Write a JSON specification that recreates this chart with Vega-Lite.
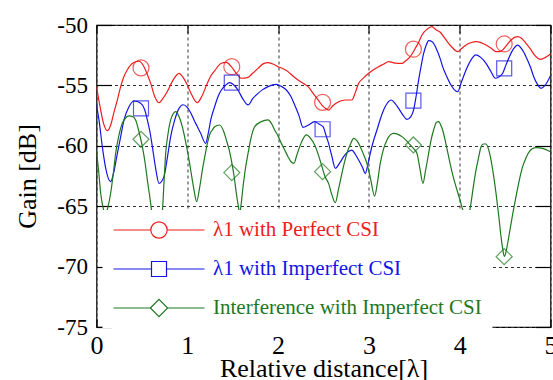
{
  "$schema": "https://vega.github.io/schema/vega-lite/v6.json",
  "width": 454,
  "height": 302,
  "autosize": "none",
  "padding": {"left": 96.5, "top": 25, "right": 2.5, "bottom": 53},
  "background": "white",
  "config": {
    "view": {"stroke": "#000", "strokeWidth": 1.2},
    "font": "Liberation Serif, Times New Roman, serif",
    "axis": {
      "labelFont": "Liberation Serif, Times New Roman, serif",
      "titleFont": "Liberation Serif, Times New Roman, serif",
      "labelColor": "#000",
      "titleColor": "#000",
      "titleFontWeight": "normal",
      "domain": false,
      "tickColor": "#000",
      "tickWidth": 1.2,
      "gridColor": "#333",
      "gridDash": [3, 3],
      "gridWidth": 1,
      "gridOpacity": 1
    }
  },
  "datasets": {
    "curves": [
      {"x": 0, "y": -55.1, "s": "λ1 with Perfect CSI"},
      {"x": 0.04, "y": -56.8, "s": "λ1 with Perfect CSI"},
      {"x": 0.08, "y": -58.2, "s": "λ1 with Perfect CSI"},
      {"x": 0.12, "y": -58.75, "s": "λ1 with Perfect CSI"},
      {"x": 0.16, "y": -58.2, "s": "λ1 with Perfect CSI"},
      {"x": 0.19, "y": -57.3, "s": "λ1 with Perfect CSI"},
      {"x": 0.23, "y": -56.2, "s": "λ1 with Perfect CSI"},
      {"x": 0.266, "y": -55.1, "s": "λ1 with Perfect CSI"},
      {"x": 0.3, "y": -54.3, "s": "λ1 with Perfect CSI"},
      {"x": 0.34, "y": -53.7, "s": "λ1 with Perfect CSI"},
      {"x": 0.41, "y": -53.1, "s": "λ1 with Perfect CSI"},
      {"x": 0.468, "y": -53.0, "s": "λ1 with Perfect CSI"},
      {"x": 0.523, "y": -53.45, "s": "λ1 with Perfect CSI"},
      {"x": 0.56, "y": -54.1, "s": "λ1 with Perfect CSI"},
      {"x": 0.597, "y": -54.83, "s": "λ1 with Perfect CSI"},
      {"x": 0.64, "y": -55.9, "s": "λ1 with Perfect CSI"},
      {"x": 0.688, "y": -56.43, "s": "λ1 with Perfect CSI"},
      {"x": 0.73, "y": -56.1, "s": "λ1 with Perfect CSI"},
      {"x": 0.78, "y": -55.5, "s": "λ1 with Perfect CSI"},
      {"x": 0.84, "y": -54.6, "s": "λ1 with Perfect CSI"},
      {"x": 0.909, "y": -54.0, "s": "λ1 with Perfect CSI"},
      {"x": 0.95, "y": -54.3, "s": "λ1 with Perfect CSI"},
      {"x": 1.0, "y": -54.97, "s": "λ1 with Perfect CSI"},
      {"x": 1.05, "y": -55.8, "s": "λ1 with Perfect CSI"},
      {"x": 1.11, "y": -56.43, "s": "λ1 with Perfect CSI"},
      {"x": 1.16, "y": -55.9, "s": "λ1 with Perfect CSI"},
      {"x": 1.22, "y": -54.83, "s": "λ1 with Perfect CSI"},
      {"x": 1.26, "y": -54.2, "s": "λ1 with Perfect CSI"},
      {"x": 1.3, "y": -53.8, "s": "λ1 with Perfect CSI"},
      {"x": 1.375, "y": -53.17, "s": "λ1 with Perfect CSI"},
      {"x": 1.43, "y": -53.1, "s": "λ1 with Perfect CSI"},
      {"x": 1.485, "y": -53.45, "s": "λ1 with Perfect CSI"},
      {"x": 1.54, "y": -54.0, "s": "λ1 with Perfect CSI"},
      {"x": 1.595, "y": -54.41, "s": "λ1 with Perfect CSI"},
      {"x": 1.669, "y": -54.33, "s": "λ1 with Perfect CSI"},
      {"x": 1.72, "y": -54.0, "s": "λ1 with Perfect CSI"},
      {"x": 1.779, "y": -53.59, "s": "λ1 with Perfect CSI"},
      {"x": 1.84, "y": -53.2, "s": "λ1 with Perfect CSI"},
      {"x": 1.889, "y": -53.12, "s": "λ1 with Perfect CSI"},
      {"x": 1.95, "y": -53.25, "s": "λ1 with Perfect CSI"},
      {"x": 1.999, "y": -53.45, "s": "λ1 with Perfect CSI"},
      {"x": 2.05, "y": -53.6, "s": "λ1 with Perfect CSI"},
      {"x": 2.109, "y": -53.86, "s": "λ1 with Perfect CSI"},
      {"x": 2.16, "y": -54.2, "s": "λ1 with Perfect CSI"},
      {"x": 2.219, "y": -54.55, "s": "λ1 with Perfect CSI"},
      {"x": 2.28, "y": -54.85, "s": "λ1 with Perfect CSI"},
      {"x": 2.33, "y": -55.1, "s": "λ1 with Perfect CSI"},
      {"x": 2.39, "y": -55.7, "s": "λ1 with Perfect CSI"},
      {"x": 2.44, "y": -56.2, "s": "λ1 with Perfect CSI"},
      {"x": 2.49, "y": -56.7, "s": "λ1 with Perfect CSI"},
      {"x": 2.53, "y": -56.95, "s": "λ1 with Perfect CSI"},
      {"x": 2.556, "y": -57.04, "s": "λ1 with Perfect CSI"},
      {"x": 2.6, "y": -56.7, "s": "λ1 with Perfect CSI"},
      {"x": 2.667, "y": -56.35, "s": "λ1 with Perfect CSI"},
      {"x": 2.74, "y": -56.21, "s": "λ1 with Perfect CSI"},
      {"x": 2.813, "y": -56.21, "s": "λ1 with Perfect CSI"},
      {"x": 2.85, "y": -55.6, "s": "λ1 with Perfect CSI"},
      {"x": 2.887, "y": -54.83, "s": "λ1 with Perfect CSI"},
      {"x": 2.94, "y": -54.4, "s": "λ1 with Perfect CSI"},
      {"x": 2.997, "y": -54.0, "s": "λ1 with Perfect CSI"},
      {"x": 3.05, "y": -53.7, "s": "λ1 with Perfect CSI"},
      {"x": 3.107, "y": -53.45, "s": "λ1 with Perfect CSI"},
      {"x": 3.16, "y": -53.25, "s": "λ1 with Perfect CSI"},
      {"x": 3.217, "y": -53.04, "s": "λ1 with Perfect CSI"},
      {"x": 3.29, "y": -53.15, "s": "λ1 with Perfect CSI"},
      {"x": 3.364, "y": -53.17, "s": "λ1 with Perfect CSI"},
      {"x": 3.4, "y": -53.0, "s": "λ1 with Perfect CSI"},
      {"x": 3.437, "y": -52.76, "s": "λ1 with Perfect CSI"},
      {"x": 3.475, "y": -52.4, "s": "λ1 with Perfect CSI"},
      {"x": 3.511, "y": -51.93, "s": "λ1 with Perfect CSI"},
      {"x": 3.55, "y": -51.4, "s": "λ1 with Perfect CSI"},
      {"x": 3.584, "y": -50.83, "s": "λ1 with Perfect CSI"},
      {"x": 3.64, "y": -50.35, "s": "λ1 with Perfect CSI"},
      {"x": 3.694, "y": -50.14, "s": "λ1 with Perfect CSI"},
      {"x": 3.739, "y": -50.4, "s": "λ1 with Perfect CSI"},
      {"x": 3.786, "y": -50.6, "s": "λ1 with Perfect CSI"},
      {"x": 3.849, "y": -51.24, "s": "λ1 with Perfect CSI"},
      {"x": 3.91, "y": -51.8, "s": "λ1 with Perfect CSI"},
      {"x": 3.978, "y": -52.2, "s": "λ1 with Perfect CSI"},
      {"x": 4.02, "y": -51.95, "s": "λ1 with Perfect CSI"},
      {"x": 4.07, "y": -51.66, "s": "λ1 with Perfect CSI"},
      {"x": 4.13, "y": -51.45, "s": "λ1 with Perfect CSI"},
      {"x": 4.18, "y": -51.38, "s": "λ1 with Perfect CSI"},
      {"x": 4.24, "y": -51.48, "s": "λ1 with Perfect CSI"},
      {"x": 4.29, "y": -51.66, "s": "λ1 with Perfect CSI"},
      {"x": 4.35, "y": -51.95, "s": "λ1 with Perfect CSI"},
      {"x": 4.4, "y": -52.2, "s": "λ1 with Perfect CSI"},
      {"x": 4.44, "y": -52.2, "s": "λ1 with Perfect CSI"},
      {"x": 4.473, "y": -52.07, "s": "λ1 with Perfect CSI"},
      {"x": 4.52, "y": -51.65, "s": "λ1 with Perfect CSI"},
      {"x": 4.565, "y": -51.24, "s": "λ1 with Perfect CSI"},
      {"x": 4.638, "y": -50.97, "s": "λ1 with Perfect CSI"},
      {"x": 4.68, "y": -51.1, "s": "λ1 with Perfect CSI"},
      {"x": 4.73, "y": -51.52, "s": "λ1 with Perfect CSI"},
      {"x": 4.78, "y": -52.0, "s": "λ1 with Perfect CSI"},
      {"x": 4.822, "y": -52.48, "s": "λ1 with Perfect CSI"},
      {"x": 4.86, "y": -52.75, "s": "λ1 with Perfect CSI"},
      {"x": 4.895, "y": -52.84, "s": "λ1 with Perfect CSI"},
      {"x": 4.94, "y": -52.7, "s": "λ1 with Perfect CSI"},
      {"x": 5.0, "y": -52.4, "s": "λ1 with Perfect CSI"},

      {"x": 0, "y": -56.6, "s": "λ1 with Imperfect CSI"},
      {"x": 0.03, "y": -58.0, "s": "λ1 with Imperfect CSI"},
      {"x": 0.064, "y": -60.07, "s": "λ1 with Imperfect CSI"},
      {"x": 0.1, "y": -61.8, "s": "λ1 with Imperfect CSI"},
      {"x": 0.156, "y": -62.97, "s": "λ1 with Imperfect CSI"},
      {"x": 0.19, "y": -62.2, "s": "λ1 with Imperfect CSI"},
      {"x": 0.23, "y": -60.62, "s": "λ1 with Imperfect CSI"},
      {"x": 0.27, "y": -59.1, "s": "λ1 with Imperfect CSI"},
      {"x": 0.303, "y": -57.86, "s": "λ1 with Imperfect CSI"},
      {"x": 0.358, "y": -56.76, "s": "λ1 with Imperfect CSI"},
      {"x": 0.413, "y": -56.29, "s": "λ1 with Imperfect CSI"},
      {"x": 0.487, "y": -56.48, "s": "λ1 with Imperfect CSI"},
      {"x": 0.53, "y": -57.0, "s": "λ1 with Imperfect CSI"},
      {"x": 0.56, "y": -57.86, "s": "λ1 with Imperfect CSI"},
      {"x": 0.59, "y": -58.9, "s": "λ1 with Imperfect CSI"},
      {"x": 0.615, "y": -60.07, "s": "λ1 with Imperfect CSI"},
      {"x": 0.65, "y": -61.8, "s": "λ1 with Imperfect CSI"},
      {"x": 0.688, "y": -63.11, "s": "λ1 with Imperfect CSI"},
      {"x": 0.743, "y": -62.55, "s": "λ1 with Imperfect CSI"},
      {"x": 0.78, "y": -61.0, "s": "λ1 with Imperfect CSI"},
      {"x": 0.817, "y": -59.24, "s": "λ1 with Imperfect CSI"},
      {"x": 0.86, "y": -57.9, "s": "λ1 with Imperfect CSI"},
      {"x": 0.909, "y": -56.9, "s": "λ1 with Imperfect CSI"},
      {"x": 0.955, "y": -56.6, "s": "λ1 with Imperfect CSI"},
      {"x": 1.0, "y": -56.82, "s": "λ1 with Imperfect CSI"},
      {"x": 1.04, "y": -57.3, "s": "λ1 with Imperfect CSI"},
      {"x": 1.074, "y": -57.86, "s": "λ1 with Imperfect CSI"},
      {"x": 1.11, "y": -58.4, "s": "λ1 with Imperfect CSI"},
      {"x": 1.147, "y": -58.97, "s": "λ1 with Imperfect CSI"},
      {"x": 1.202, "y": -59.8, "s": "λ1 with Imperfect CSI"},
      {"x": 1.23, "y": -59.0, "s": "λ1 with Imperfect CSI"},
      {"x": 1.26, "y": -57.8, "s": "λ1 with Imperfect CSI"},
      {"x": 1.301, "y": -56.76, "s": "λ1 with Imperfect CSI"},
      {"x": 1.34, "y": -55.9, "s": "λ1 with Imperfect CSI"},
      {"x": 1.375, "y": -55.38, "s": "λ1 with Imperfect CSI"},
      {"x": 1.42, "y": -55.0, "s": "λ1 with Imperfect CSI"},
      {"x": 1.467, "y": -54.77, "s": "λ1 with Imperfect CSI"},
      {"x": 1.51, "y": -54.95, "s": "λ1 with Imperfect CSI"},
      {"x": 1.558, "y": -55.38, "s": "λ1 with Imperfect CSI"},
      {"x": 1.61, "y": -56.1, "s": "λ1 with Imperfect CSI"},
      {"x": 1.669, "y": -56.62, "s": "λ1 with Imperfect CSI"},
      {"x": 1.72, "y": -56.1, "s": "λ1 with Imperfect CSI"},
      {"x": 1.779, "y": -55.66, "s": "λ1 with Imperfect CSI"},
      {"x": 1.83, "y": -55.35, "s": "λ1 with Imperfect CSI"},
      {"x": 1.889, "y": -55.1, "s": "λ1 with Imperfect CSI"},
      {"x": 1.98, "y": -54.91, "s": "λ1 with Imperfect CSI"},
      {"x": 2.04, "y": -55.1, "s": "λ1 with Imperfect CSI"},
      {"x": 2.091, "y": -55.38, "s": "λ1 with Imperfect CSI"},
      {"x": 2.14, "y": -55.9, "s": "λ1 with Imperfect CSI"},
      {"x": 2.183, "y": -56.62, "s": "λ1 with Imperfect CSI"},
      {"x": 2.23, "y": -57.5, "s": "λ1 with Imperfect CSI"},
      {"x": 2.274, "y": -58.47, "s": "λ1 with Imperfect CSI"},
      {"x": 2.33, "y": -58.3, "s": "λ1 with Imperfect CSI"},
      {"x": 2.403, "y": -58.0, "s": "λ1 with Imperfect CSI"},
      {"x": 2.45, "y": -58.2, "s": "λ1 with Imperfect CSI"},
      {"x": 2.495, "y": -58.42, "s": "λ1 with Imperfect CSI"},
      {"x": 2.53, "y": -59.2, "s": "λ1 with Imperfect CSI"},
      {"x": 2.556, "y": -59.8, "s": "λ1 with Imperfect CSI"},
      {"x": 2.59, "y": -60.8, "s": "λ1 with Imperfect CSI"},
      {"x": 2.63, "y": -61.86, "s": "λ1 with Imperfect CSI"},
      {"x": 2.68, "y": -61.4, "s": "λ1 with Imperfect CSI"},
      {"x": 2.722, "y": -60.9, "s": "λ1 with Imperfect CSI"},
      {"x": 2.77, "y": -60.5, "s": "λ1 with Imperfect CSI"},
      {"x": 2.813, "y": -60.35, "s": "λ1 with Imperfect CSI"},
      {"x": 2.85, "y": -60.7, "s": "λ1 with Imperfect CSI"},
      {"x": 2.887, "y": -61.18, "s": "λ1 with Imperfect CSI"},
      {"x": 2.93, "y": -61.8, "s": "λ1 with Imperfect CSI"},
      {"x": 2.96, "y": -62.28, "s": "λ1 with Imperfect CSI"},
      {"x": 2.99, "y": -61.5, "s": "λ1 with Imperfect CSI"},
      {"x": 3.015, "y": -60.62, "s": "λ1 with Imperfect CSI"},
      {"x": 3.05, "y": -59.6, "s": "λ1 with Imperfect CSI"},
      {"x": 3.089, "y": -58.69, "s": "λ1 with Imperfect CSI"},
      {"x": 3.125, "y": -57.8, "s": "λ1 with Imperfect CSI"},
      {"x": 3.162, "y": -57.04, "s": "λ1 with Imperfect CSI"},
      {"x": 3.2, "y": -56.5, "s": "λ1 with Imperfect CSI"},
      {"x": 3.246, "y": -56.21, "s": "λ1 with Imperfect CSI"},
      {"x": 3.29, "y": -56.5, "s": "λ1 with Imperfect CSI"},
      {"x": 3.327, "y": -56.9, "s": "λ1 with Imperfect CSI"},
      {"x": 3.37, "y": -57.4, "s": "λ1 with Imperfect CSI"},
      {"x": 3.419, "y": -57.81, "s": "λ1 with Imperfect CSI"},
      {"x": 3.46, "y": -57.6, "s": "λ1 with Imperfect CSI"},
      {"x": 3.492, "y": -57.04, "s": "λ1 with Imperfect CSI"},
      {"x": 3.52, "y": -55.9, "s": "λ1 with Imperfect CSI"},
      {"x": 3.548, "y": -54.55, "s": "λ1 with Imperfect CSI"},
      {"x": 3.575, "y": -53.4, "s": "λ1 with Imperfect CSI"},
      {"x": 3.603, "y": -52.35, "s": "λ1 with Imperfect CSI"},
      {"x": 3.63, "y": -51.7, "s": "λ1 with Imperfect CSI"},
      {"x": 3.658, "y": -51.3, "s": "λ1 with Imperfect CSI"},
      {"x": 3.7, "y": -51.4, "s": "λ1 with Imperfect CSI"},
      {"x": 3.739, "y": -51.9, "s": "λ1 with Imperfect CSI"},
      {"x": 3.786, "y": -52.8, "s": "λ1 with Imperfect CSI"},
      {"x": 3.812, "y": -53.45, "s": "λ1 with Imperfect CSI"},
      {"x": 3.86, "y": -54.3, "s": "λ1 with Imperfect CSI"},
      {"x": 3.904, "y": -54.97, "s": "λ1 with Imperfect CSI"},
      {"x": 3.94, "y": -55.35, "s": "λ1 with Imperfect CSI"},
      {"x": 3.978, "y": -55.52, "s": "λ1 with Imperfect CSI"},
      {"x": 4.02, "y": -54.7, "s": "λ1 with Imperfect CSI"},
      {"x": 4.07, "y": -53.72, "s": "λ1 with Imperfect CSI"},
      {"x": 4.12, "y": -52.95, "s": "λ1 with Imperfect CSI"},
      {"x": 4.18, "y": -52.48, "s": "λ1 with Imperfect CSI"},
      {"x": 4.235, "y": -52.7, "s": "λ1 with Imperfect CSI"},
      {"x": 4.29, "y": -53.17, "s": "λ1 with Imperfect CSI"},
      {"x": 4.34, "y": -53.8, "s": "λ1 with Imperfect CSI"},
      {"x": 4.392, "y": -54.41, "s": "λ1 with Imperfect CSI"},
      {"x": 4.43, "y": -54.3, "s": "λ1 with Imperfect CSI"},
      {"x": 4.473, "y": -54.0, "s": "λ1 with Imperfect CSI"},
      {"x": 4.51, "y": -53.3, "s": "λ1 with Imperfect CSI"},
      {"x": 4.547, "y": -52.62, "s": "λ1 with Imperfect CSI"},
      {"x": 4.59, "y": -52.0, "s": "λ1 with Imperfect CSI"},
      {"x": 4.638, "y": -51.66, "s": "λ1 with Imperfect CSI"},
      {"x": 4.685, "y": -52.0, "s": "λ1 with Imperfect CSI"},
      {"x": 4.73, "y": -52.62, "s": "λ1 with Imperfect CSI"},
      {"x": 4.78, "y": -53.5, "s": "λ1 with Imperfect CSI"},
      {"x": 4.822, "y": -54.41, "s": "λ1 with Imperfect CSI"},
      {"x": 4.86, "y": -54.95, "s": "λ1 with Imperfect CSI"},
      {"x": 4.895, "y": -55.24, "s": "λ1 with Imperfect CSI"},
      {"x": 4.94, "y": -55.0, "s": "λ1 with Imperfect CSI"},
      {"x": 5.0, "y": -54.2, "s": "λ1 with Imperfect CSI"},

      {"x": 0, "y": -60.4, "s": "Interference with Imperfect CSI"},
      {"x": 0.025, "y": -62.2, "s": "Interference with Imperfect CSI"},
      {"x": 0.046, "y": -63.93, "s": "Interference with Imperfect CSI"},
      {"x": 0.075, "y": -65.2, "s": "Interference with Imperfect CSI"},
      {"x": 0.1, "y": -65.65, "s": "Interference with Imperfect CSI"},
      {"x": 0.125, "y": -65.1, "s": "Interference with Imperfect CSI"},
      {"x": 0.156, "y": -63.93, "s": "Interference with Imperfect CSI"},
      {"x": 0.185, "y": -62.3, "s": "Interference with Imperfect CSI"},
      {"x": 0.211, "y": -60.62, "s": "Interference with Imperfect CSI"},
      {"x": 0.245, "y": -59.2, "s": "Interference with Imperfect CSI"},
      {"x": 0.284, "y": -58.14, "s": "Interference with Imperfect CSI"},
      {"x": 0.32, "y": -57.7, "s": "Interference with Imperfect CSI"},
      {"x": 0.358, "y": -57.53, "s": "Interference with Imperfect CSI"},
      {"x": 0.4, "y": -57.6, "s": "Interference with Imperfect CSI"},
      {"x": 0.431, "y": -57.86, "s": "Interference with Imperfect CSI"},
      {"x": 0.47, "y": -58.9, "s": "Interference with Imperfect CSI"},
      {"x": 0.505, "y": -60.07, "s": "Interference with Imperfect CSI"},
      {"x": 0.535, "y": -61.4, "s": "Interference with Imperfect CSI"},
      {"x": 0.56, "y": -62.83, "s": "Interference with Imperfect CSI"},
      {"x": 0.59, "y": -64.4, "s": "Interference with Imperfect CSI"},
      {"x": 0.615, "y": -65.87, "s": "Interference with Imperfect CSI"},
      {"x": 0.64, "y": -67.3, "s": "Interference with Imperfect CSI"},
      {"x": 0.675, "y": -68.0, "s": "Interference with Imperfect CSI"},
      {"x": 0.71, "y": -67.0, "s": "Interference with Imperfect CSI"},
      {"x": 0.725, "y": -65.6, "s": "Interference with Imperfect CSI"},
      {"x": 0.745, "y": -62.8, "s": "Interference with Imperfect CSI"},
      {"x": 0.762, "y": -60.62, "s": "Interference with Imperfect CSI"},
      {"x": 0.79, "y": -58.9, "s": "Interference with Imperfect CSI"},
      {"x": 0.817, "y": -57.86, "s": "Interference with Imperfect CSI"},
      {"x": 0.872, "y": -57.17, "s": "Interference with Imperfect CSI"},
      {"x": 0.91, "y": -57.6, "s": "Interference with Imperfect CSI"},
      {"x": 0.945, "y": -58.42, "s": "Interference with Imperfect CSI"},
      {"x": 0.985, "y": -59.8, "s": "Interference with Imperfect CSI"},
      {"x": 1.019, "y": -61.17, "s": "Interference with Imperfect CSI"},
      {"x": 1.05, "y": -62.6, "s": "Interference with Imperfect CSI"},
      {"x": 1.074, "y": -63.66, "s": "Interference with Imperfect CSI"},
      {"x": 1.103, "y": -64.62, "s": "Interference with Imperfect CSI"},
      {"x": 1.135, "y": -63.5, "s": "Interference with Imperfect CSI"},
      {"x": 1.166, "y": -62.0, "s": "Interference with Imperfect CSI"},
      {"x": 1.195, "y": -60.8, "s": "Interference with Imperfect CSI"},
      {"x": 1.221, "y": -59.8, "s": "Interference with Imperfect CSI"},
      {"x": 1.25, "y": -59.0, "s": "Interference with Imperfect CSI"},
      {"x": 1.276, "y": -58.69, "s": "Interference with Imperfect CSI"},
      {"x": 1.301, "y": -58.42, "s": "Interference with Imperfect CSI"},
      {"x": 1.356, "y": -58.28, "s": "Interference with Imperfect CSI"},
      {"x": 1.4, "y": -58.8, "s": "Interference with Imperfect CSI"},
      {"x": 1.43, "y": -59.52, "s": "Interference with Imperfect CSI"},
      {"x": 1.46, "y": -60.3, "s": "Interference with Imperfect CSI"},
      {"x": 1.485, "y": -61.18, "s": "Interference with Imperfect CSI"},
      {"x": 1.515, "y": -62.5, "s": "Interference with Imperfect CSI"},
      {"x": 1.54, "y": -63.93, "s": "Interference with Imperfect CSI"},
      {"x": 1.56, "y": -64.9, "s": "Interference with Imperfect CSI"},
      {"x": 1.577, "y": -65.59, "s": "Interference with Imperfect CSI"},
      {"x": 1.595, "y": -64.7, "s": "Interference with Imperfect CSI"},
      {"x": 1.614, "y": -63.38, "s": "Interference with Imperfect CSI"},
      {"x": 1.64, "y": -61.9, "s": "Interference with Imperfect CSI"},
      {"x": 1.669, "y": -60.62, "s": "Interference with Imperfect CSI"},
      {"x": 1.7, "y": -59.4, "s": "Interference with Imperfect CSI"},
      {"x": 1.742, "y": -58.42, "s": "Interference with Imperfect CSI"},
      {"x": 1.815, "y": -58.0, "s": "Interference with Imperfect CSI"},
      {"x": 1.889, "y": -57.86, "s": "Interference with Imperfect CSI"},
      {"x": 1.93, "y": -58.2, "s": "Interference with Imperfect CSI"},
      {"x": 1.962, "y": -58.69, "s": "Interference with Imperfect CSI"},
      {"x": 2.0, "y": -59.2, "s": "Interference with Imperfect CSI"},
      {"x": 2.036, "y": -59.8, "s": "Interference with Imperfect CSI"},
      {"x": 2.07, "y": -60.3, "s": "Interference with Imperfect CSI"},
      {"x": 2.109, "y": -60.9, "s": "Interference with Imperfect CSI"},
      {"x": 2.14, "y": -61.3, "s": "Interference with Imperfect CSI"},
      {"x": 2.175, "y": -61.45, "s": "Interference with Imperfect CSI"},
      {"x": 2.205, "y": -60.8, "s": "Interference with Imperfect CSI"},
      {"x": 2.238, "y": -60.07, "s": "Interference with Imperfect CSI"},
      {"x": 2.27, "y": -59.5, "s": "Interference with Imperfect CSI"},
      {"x": 2.311, "y": -59.1, "s": "Interference with Imperfect CSI"},
      {"x": 2.36, "y": -59.4, "s": "Interference with Imperfect CSI"},
      {"x": 2.403, "y": -59.93, "s": "Interference with Imperfect CSI"},
      {"x": 2.45, "y": -60.9, "s": "Interference with Imperfect CSI"},
      {"x": 2.483, "y": -61.73, "s": "Interference with Imperfect CSI"},
      {"x": 2.52, "y": -62.6, "s": "Interference with Imperfect CSI"},
      {"x": 2.556, "y": -63.11, "s": "Interference with Imperfect CSI"},
      {"x": 2.59, "y": -64.0, "s": "Interference with Imperfect CSI"},
      {"x": 2.63, "y": -64.71, "s": "Interference with Imperfect CSI"},
      {"x": 2.665, "y": -63.6, "s": "Interference with Imperfect CSI"},
      {"x": 2.703, "y": -62.28, "s": "Interference with Imperfect CSI"},
      {"x": 2.73, "y": -61.4, "s": "Interference with Imperfect CSI"},
      {"x": 2.758, "y": -60.62, "s": "Interference with Imperfect CSI"},
      {"x": 2.795, "y": -59.9, "s": "Interference with Imperfect CSI"},
      {"x": 2.832, "y": -59.38, "s": "Interference with Imperfect CSI"},
      {"x": 2.87, "y": -59.6, "s": "Interference with Imperfect CSI"},
      {"x": 2.905, "y": -60.07, "s": "Interference with Imperfect CSI"},
      {"x": 2.94, "y": -60.7, "s": "Interference with Imperfect CSI"},
      {"x": 2.978, "y": -61.45, "s": "Interference with Imperfect CSI"},
      {"x": 3.02, "y": -62.8, "s": "Interference with Imperfect CSI"},
      {"x": 3.063, "y": -64.16, "s": "Interference with Imperfect CSI"},
      {"x": 3.095, "y": -63.0, "s": "Interference with Imperfect CSI"},
      {"x": 3.125, "y": -61.45, "s": "Interference with Imperfect CSI"},
      {"x": 3.16, "y": -60.3, "s": "Interference with Imperfect CSI"},
      {"x": 3.199, "y": -59.52, "s": "Interference with Imperfect CSI"},
      {"x": 3.235, "y": -59.1, "s": "Interference with Imperfect CSI"},
      {"x": 3.272, "y": -58.97, "s": "Interference with Imperfect CSI"},
      {"x": 3.32, "y": -59.05, "s": "Interference with Imperfect CSI"},
      {"x": 3.364, "y": -59.24, "s": "Interference with Imperfect CSI"},
      {"x": 3.41, "y": -59.55, "s": "Interference with Imperfect CSI"},
      {"x": 3.456, "y": -59.93, "s": "Interference with Imperfect CSI"},
      {"x": 3.5, "y": -60.3, "s": "Interference with Imperfect CSI"},
      {"x": 3.529, "y": -60.62, "s": "Interference with Imperfect CSI"},
      {"x": 3.56, "y": -61.8, "s": "Interference with Imperfect CSI"},
      {"x": 3.595, "y": -63.11, "s": "Interference with Imperfect CSI"},
      {"x": 3.625, "y": -62.0, "s": "Interference with Imperfect CSI"},
      {"x": 3.658, "y": -60.62, "s": "Interference with Imperfect CSI"},
      {"x": 3.685, "y": -59.5, "s": "Interference with Imperfect CSI"},
      {"x": 3.713, "y": -58.69, "s": "Interference with Imperfect CSI"},
      {"x": 3.745, "y": -58.05, "s": "Interference with Imperfect CSI"},
      {"x": 3.768, "y": -58.0, "s": "Interference with Imperfect CSI"},
      {"x": 3.8, "y": -58.45, "s": "Interference with Imperfect CSI"},
      {"x": 3.812, "y": -58.69, "s": "Interference with Imperfect CSI"},
      {"x": 3.85, "y": -59.9, "s": "Interference with Imperfect CSI"},
      {"x": 3.886, "y": -61.18, "s": "Interference with Imperfect CSI"},
      {"x": 3.92, "y": -62.3, "s": "Interference with Imperfect CSI"},
      {"x": 3.959, "y": -63.38, "s": "Interference with Imperfect CSI"},
      {"x": 4.0, "y": -64.4, "s": "Interference with Imperfect CSI"},
      {"x": 4.033, "y": -65.31, "s": "Interference with Imperfect CSI"},
      {"x": 4.077, "y": -66.42, "s": "Interference with Imperfect CSI"},
      {"x": 4.1, "y": -65.8, "s": "Interference with Imperfect CSI"},
      {"x": 4.124, "y": -64.76, "s": "Interference with Imperfect CSI"},
      {"x": 4.15, "y": -63.4, "s": "Interference with Imperfect CSI"},
      {"x": 4.18, "y": -62.0, "s": "Interference with Imperfect CSI"},
      {"x": 4.21, "y": -60.9, "s": "Interference with Imperfect CSI"},
      {"x": 4.235, "y": -60.07, "s": "Interference with Imperfect CSI"},
      {"x": 4.26, "y": -59.85, "s": "Interference with Imperfect CSI"},
      {"x": 4.29, "y": -59.85, "s": "Interference with Imperfect CSI"},
      {"x": 4.318, "y": -60.3, "s": "Interference with Imperfect CSI"},
      {"x": 4.345, "y": -61.18, "s": "Interference with Imperfect CSI"},
      {"x": 4.372, "y": -62.4, "s": "Interference with Imperfect CSI"},
      {"x": 4.4, "y": -63.93, "s": "Interference with Imperfect CSI"},
      {"x": 4.43, "y": -65.8, "s": "Interference with Imperfect CSI"},
      {"x": 4.455, "y": -67.52, "s": "Interference with Imperfect CSI"},
      {"x": 4.475, "y": -68.6, "s": "Interference with Imperfect CSI"},
      {"x": 4.492, "y": -69.18, "s": "Interference with Imperfect CSI"},
      {"x": 4.52, "y": -68.4, "s": "Interference with Imperfect CSI"},
      {"x": 4.547, "y": -67.25, "s": "Interference with Imperfect CSI"},
      {"x": 4.585, "y": -65.6, "s": "Interference with Imperfect CSI"},
      {"x": 4.62, "y": -64.21, "s": "Interference with Imperfect CSI"},
      {"x": 4.655, "y": -62.9, "s": "Interference with Imperfect CSI"},
      {"x": 4.693, "y": -61.73, "s": "Interference with Imperfect CSI"},
      {"x": 4.73, "y": -61.0, "s": "Interference with Imperfect CSI"},
      {"x": 4.767, "y": -60.49, "s": "Interference with Imperfect CSI"},
      {"x": 4.8, "y": -60.25, "s": "Interference with Imperfect CSI"},
      {"x": 4.84, "y": -60.15, "s": "Interference with Imperfect CSI"},
      {"x": 4.914, "y": -60.21, "s": "Interference with Imperfect CSI"},
      {"x": 4.96, "y": -60.35, "s": "Interference with Imperfect CSI"},
      {"x": 5.0, "y": -60.5, "s": "Interference with Imperfect CSI"}
    ],
    "markers": [
      {"x": 0.49, "y": -53.55, "s": "λ1 with Perfect CSI"},
      {"x": 1.49, "y": -53.45, "s": "λ1 with Perfect CSI"},
      {"x": 2.49, "y": -56.4, "s": "λ1 with Perfect CSI"},
      {"x": 3.49, "y": -52.0, "s": "λ1 with Perfect CSI"},
      {"x": 4.49, "y": -51.57, "s": "λ1 with Perfect CSI"},
      {"x": 0.49, "y": -56.9, "s": "λ1 with Imperfect CSI"},
      {"x": 1.49, "y": -54.77, "s": "λ1 with Imperfect CSI"},
      {"x": 2.49, "y": -58.63, "s": "λ1 with Imperfect CSI"},
      {"x": 3.49, "y": -56.26, "s": "λ1 with Imperfect CSI"},
      {"x": 4.49, "y": -53.59, "s": "λ1 with Imperfect CSI"},
      {"x": 0.49, "y": -59.46, "s": "Interference with Imperfect CSI"},
      {"x": 1.49, "y": -62.22, "s": "Interference with Imperfect CSI"},
      {"x": 2.49, "y": -62.14, "s": "Interference with Imperfect CSI"},
      {"x": 3.49, "y": -59.93, "s": "Interference with Imperfect CSI"},
      {"x": 4.49, "y": -69.18, "s": "Interference with Imperfect CSI"}
    ]
  },
  "resolve": {"axis": {"x": "independent", "y": "independent"}},
  "layer": [
    {
      "data": {"name": "curves"},
      "mark": {"type": "line", "strokeWidth": 1.2, "interpolate": "monotone", "clip": true},
      "encoding": {
        "x": {
          "field": "x", "type": "quantitative",
          "scale": {"domain": [0, 5], "nice": false},
          "axis": {
            "title": "Relative distance[λ]",
            "values": [0, 1, 2, 3, 4, 5],
            "labelExpr": "'' + datum.value",
            "grid": true,
            "tickSize": -8,
            "labelFontSize": 26,
            "labelPadding": 13,
            "labelFlush": false,
            "titleFontSize": 26,
            "titlePadding": -3
          }
        },
        "y": {
          "field": "y", "type": "quantitative",
          "scale": {"domain": [-75, -50], "nice": false},
          "axis": {
            "title": "Gain [dB]",
            "values": [-75, -70, -65, -60, -55, -50],
            "labelExpr": "'' + datum.value",
            "grid": true,
            "tickSize": -15,
            "labelFontSize": 23,
            "labelPadding": 24,
            "labelFlush": false,
            "titleFontSize": 26,
            "titlePadding": 16
          }
        },
        "color": {
          "field": "s", "type": "nominal",
          "scale": {
            "domain": ["λ1 with Perfect CSI", "λ1 with Imperfect CSI", "Interference with Imperfect CSI"],
            "range": ["#ee1c1c", "#1414e6", "#1e781e"]
          },
          "legend": {
            "title": null,
            "orient": "none",
            "legendX": 6,
            "legendY": 185,
            "padding": 10,
            "fillColor": "white",
            "strokeColor": null,
            "symbolSize": 8281,
            "clipHeight": 20,
            "symbolStrokeWidth": 1.2,
            "symbolOffset": 0,
            "labelOffset": 7.5,
            "rowPadding": 18,
            "labelFont": "Liberation Serif, Times New Roman, serif",
            "labelFontSize": 21,
            "labelLimit": 400,
            "encode": {
              "symbols": {
                "update": {
                  "shape": {"signal": "datum.value === 'λ1 with Perfect CSI' ? 'M-1,0H-0.18M0.18,0H1M0.18,0A0.18,0.18,0,1,1,-0.18,0A0.18,0.18,0,1,1,0.18,0Z' : datum.value === 'λ1 with Imperfect CSI' ? 'M-1,0H-0.165M0.165,0H1M-0.165,-0.165H0.165V0.165H-0.165Z' : 'M-1,0H-0.19M0.19,0H1M-0.19,0L0,-0.19L0.19,0L0,0.19Z'"},
                  "stroke": {"scale": "color", "field": "value"},
                  "fill": {"value": "transparent"}
                }
              },
              "labels": {
                "update": {"fill": {"scale": "color", "field": "value"}}
              }
            }
          }
        }
      }
    },
    {
      "data": {"name": "markers"},
      "transform": [{"filter": "datum.s === 'λ1 with Perfect CSI'"}],
      "mark": {"type": "point", "shape": "circle", "filled": false, "strokeWidth": 1.2, "size": 256, "clip": true},
      "encoding": {
        "x": {
          "field": "x", "type": "quantitative",
          "axis": {"orient": "top", "title": null, "labels": false, "grid": false, "tickSize": -8, "values": [0, 1, 2, 3, 4, 5]}
        },
        "y": {
          "field": "y", "type": "quantitative",
          "axis": {"orient": "right", "title": null, "labels": false, "grid": false, "tickSize": -15, "values": [-75, -70, -65, -60, -55, -50]}
        },
        "color": {"field": "s", "type": "nominal", "legend": null}
      }
    },
    {
      "data": {"name": "markers"},
      "transform": [{"filter": "datum.s === 'λ1 with Imperfect CSI'"}],
      "mark": {"type": "point", "shape": "square", "filled": false, "strokeWidth": 1.2, "size": 225, "clip": true},
      "encoding": {
        "x": {"field": "x", "type": "quantitative", "axis": null},
        "y": {"field": "y", "type": "quantitative", "axis": null},
        "color": {"field": "s", "type": "nominal", "legend": null}
      }
    },
    {
      "data": {"name": "markers"},
      "transform": [{"filter": "datum.s === 'Interference with Imperfect CSI'"}],
      "mark": {"type": "point", "shape": "diamond", "filled": false, "strokeWidth": 1.2, "size": 256, "clip": true},
      "encoding": {
        "x": {"field": "x", "type": "quantitative", "axis": null},
        "y": {"field": "y", "type": "quantitative", "axis": null},
        "color": {"field": "s", "type": "nominal", "legend": null}
      }
    }
  ]
}
